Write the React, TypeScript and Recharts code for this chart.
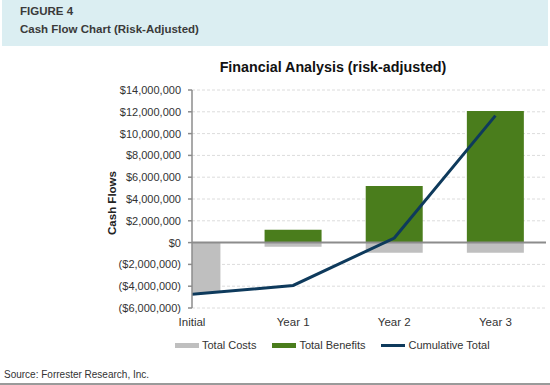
import { ComposedChart, Bar, Line, XAxis, YAxis, CartesianGrid, ReferenceLine, Label } from 'recharts'

const categories = ['Initial', 'Year 1', 'Year 2', 'Year 3']
const totalCosts = [-4600000, -370000, -920000, -920000]
const totalBenefits = [0, 1190000, 5200000, 12080000]
const cumulativeTotal = [-4750000, -3930000, 420000, 11650000]
const yTicks = [-6000000, -4000000, -2000000, 0, 2000000, 4000000, 6000000, 8000000, 10000000, 12000000, 14000000]

const data = categories.map((name, i) => ({
  idx: i,
  name,
  costs: totalCosts[i],
  benefits: totalBenefits[i],
  cumulative: cumulativeTotal[i],
}))

const font = '"Liberation Sans", Arial, sans-serif'

const formatMoney = (v: number) => {
  const s = '$' + Math.abs(v).toLocaleString('en-US')
  return v < 0 ? `(${s})` : s
}

const legendItems = [
  { label: 'Total Costs', color: '#bfbfbf', kind: 'bar' },
  { label: 'Total Benefits', color: '#4a7d1c', kind: 'bar' },
  { label: 'Cumulative Total', color: '#0e3a5c', kind: 'line' },
]

function ChartLegend() {
  return (
    <div style={{ display: 'flex', alignItems: 'center', fontFamily: font, fontSize: 11, color: '#333' }}>
      {legendItems.map((item) => (
        <div key={item.label} style={{ display: 'flex', alignItems: 'center', marginRight: 16 }}>
          <span
            style={{
              display: 'inline-block',
              width: 24,
              height: item.kind === 'bar' ? 5 : 3,
              background: item.color,
              marginRight: 3,
            }}
          />
          {item.label}
        </div>
      ))}
    </div>
  )
}

export default function App() {
  return (
    <div style={{ position: 'absolute', left: 0, top: 0, width: 550, height: 385, background: '#fff', fontFamily: font }}>
      <div
        style={{
          position: 'absolute',
          left: 2,
          top: 0,
          width: 546,
          height: 46,
          background: '#dbeef2',
          color: '#3a3a3a',
          fontWeight: 'bold',
          fontSize: 11.5,
        }}
      >
        <div style={{ position: 'absolute', left: 18, top: 5 }}>FIGURE 4</div>
        <div style={{ position: 'absolute', left: 18, top: 23 }}>Cash Flow Chart (Risk-Adjusted)</div>
      </div>
      <div
        style={{
          position: 'absolute',
          left: 0,
          top: 59,
          width: 550,
          textAlign: 'center',
          paddingLeft: 116,
          boxSizing: 'border-box',
          fontSize: 14.3,
          fontWeight: 'bold',
          color: '#111',
        }}
      >
        Financial Analysis (risk-adjusted)
      </div>
      <div style={{ position: 'absolute', left: 0, top: 0 }}>
        <ComposedChart
          width={550}
          height={385}
          data={data}
          stackOffset="sign"
          margin={{ top: 90, right: 4, bottom: 57, left: 0 }}
        >
          <CartesianGrid vertical={false} stroke="#dcdcdc" strokeDasharray="3 2" />
          <XAxis
            dataKey="idx"
            type="number"
            domain={[0, 3.5]}
            allowDataOverflow
            ticks={[0, 1, 2, 3]}
            tickFormatter={(v: number) => categories[v] ?? ''}
            axisLine={false}
            tickLine={false}
            height={20}
            tick={{ fill: '#333', fontSize: 11.5, fontFamily: font }}
            tickMargin={4}
          />
          <YAxis
            width={192}
            domain={[-6000000, 14000000]}
            ticks={yTicks}
            tickFormatter={formatMoney}
            interval={0}
            stroke="#8c8c8c"
            strokeWidth={1.5}
            tickSize={4}
            tickMargin={7}
            tick={{ fill: '#333', fontSize: 11, fontFamily: font }}
          >
            <Label
              content={() => (
                <text
                  x={113}
                  y={203}
                  transform="rotate(-90, 113, 203)"
                  textAnchor="middle"
                  dominantBaseline="middle"
                  fontSize={11.5}
                  fontWeight="bold"
                  fontFamily={font}
                  fill="#222"
                >
                  Cash Flows
                </text>
              )}
            />
          </YAxis>
          <Bar dataKey="costs" stackId="a" fill="#bfbfbf" barSize={57} isAnimationActive={false} />
          <Bar dataKey="benefits" stackId="a" fill="#4a7d1c" barSize={57} isAnimationActive={false} />
          <ReferenceLine y={0} stroke="#8c8c8c" strokeWidth={2} />
          <Line
            dataKey="cumulative"
            type="linear"
            stroke="#0e3a5c"
            strokeWidth={3}
            dot={false}
            activeDot={false}
            isAnimationActive={false}
          />
        </ComposedChart>
      </div>
      <div style={{ position: 'absolute', left: 175, top: 339 }}>
        <ChartLegend />
      </div>
      <div style={{ position: 'absolute', left: 4, top: 369, fontSize: 10, color: '#333' }}>
        Source: Forrester Research, Inc.
      </div>
      <div style={{ position: 'absolute', left: 0, top: 383, width: 550, height: 2, background: '#9a9a9a' }} />
    </div>
  )
}
